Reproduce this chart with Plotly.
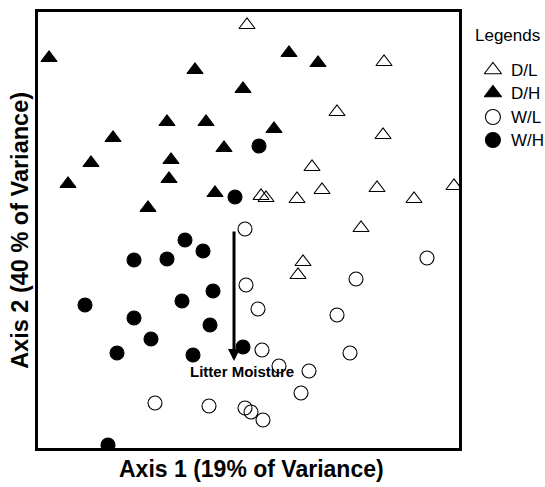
import plotly.graph_objects as go

# Ordination scores
dl_x = [-0.01, 1.36, 0.89, 1.35, 0.64, 0.74, 1.29, 0.49, 1.66, 2.06, 0.13, 0.18, 1.13, 0.55, 0.50]
dl_y = [2.05, 1.68, 1.18, 0.95, 0.63, 0.40, 0.42, 0.31, 0.31, 0.44, 0.34, 0.32, 0.02, -0.32, -0.45]

dh_x = [-1.99, -0.53, 0.41, 0.70, -0.05, -0.81, -0.42, 0.26, -1.35, -0.24, -1.57, -0.77, -1.80, -0.79, -0.33, -1.00]
dh_y = [1.72, 1.60, 1.77, 1.67, 1.41, 1.08, 1.08, 1.01, 0.92, 0.82, 0.67, 0.70, 0.46, 0.51, 0.37, 0.22]

wl_x = [-0.03, -0.02, 0.10, 0.14, -0.93, -0.39, -0.03, 0.03, 0.15, 1.79, 1.08, 0.89, 1.02, 0.31, 0.61, 0.53]
wl_y = [0.01, -0.55, -0.79, -1.20, -1.73, -1.76, -1.78, -1.82, -1.90, -0.28, -0.49, -0.85, -1.23, -1.36, -1.41, -1.63]

wh_x = [0.11, -0.13, -0.63, -0.45, -1.14, -0.81, -1.63, -0.35, -0.66, -1.14, -0.38, -0.97, -1.31, -0.55, -0.05, -1.40]
wh_y = [0.84, 0.33, -0.10, -0.21, -0.30, -0.29, -0.75, -0.61, -0.71, -0.88, -0.95, -1.09, -1.23, -1.25, -1.17, -2.15]

# Litter moisture vector (start, end)
vec_x = [-0.14, -0.14]
vec_y = [0.0, -1.31]
vec_label = "Litter Moisture"

groups = ["D/L", "D/H", "W/L", "W/H"]
symbols = ["triangle-up-open", "triangle-up", "circle-open", "circle"]
xs = [dl_x, dh_x, wl_x, wh_x]
ys = [dl_y, dh_y, wl_y, wh_y]

FONT = "Liberation Sans, Arial, sans-serif"

fig = go.Figure()
for name, sym, x, y in zip(groups, symbols, xs, ys):
    fig.add_trace(go.Scatter(
        x=x, y=y, mode="markers", name=name, showlegend=False,
        marker=dict(symbol=sym, size=14, color="black", line=dict(width=1.1, color="black"))))

# Hand-built legend in a side panel (second pair of axes, same scale)
leg_x_marker = 2.45
leg_x_text = 2.61
leg_y = [1.60, 1.37, 1.13, 0.90]
fig.add_trace(go.Scatter(
    x=[leg_x_marker] * 4, y=leg_y, mode="markers", showlegend=False, hoverinfo="skip",
    xaxis="x2", yaxis="y2",
    marker=dict(symbol=symbols, size=15, color="black", line=dict(width=1.1, color="black"))))
for name, yv in zip(groups, leg_y):
    fig.add_annotation(x=leg_x_text, y=yv, xref="x2", yref="y2", text=name, showarrow=False,
                       xanchor="left", yanchor="middle",
                       font=dict(family=FONT, size=17, color="black"))
fig.add_annotation(x=2.60, y=1.95, xref="x2", yref="y2", text="Legends", showarrow=False,
                   xanchor="center", yanchor="middle",
                   font=dict(family=FONT, size=17, color="black"))

# Vector arrow and its label
fig.add_annotation(x=vec_x[1], y=vec_y[1], ax=vec_x[0], ay=vec_y[0], xref="x", yref="y",
                   axref="x", ayref="y", showarrow=True, arrowhead=2, arrowsize=0.8,
                   arrowwidth=3, arrowcolor="black", text="")
fig.add_annotation(x=-0.06, y=-1.41, xref="x", yref="y", text="<b>" + vec_label + "</b>",
                   showarrow=False, yanchor="middle", xanchor="center",
                   font=dict(family=FONT, size=15, color="black"))

# Axis titles
main_w = 0.8304
fig.add_annotation(x=0.508 * main_w, y=0, xref="paper", yref="paper",
                   text="<b>Axis 1 (19% of Variance)</b>",
                   showarrow=False, yanchor="middle", yshift=-21,
                   font=dict(family=FONT, size=23, color="black"))
fig.add_annotation(x=0, y=0.498, xref="paper", yref="paper", text="<b>Axis 2 (40 % of Variance)</b>",
                   showarrow=False, textangle=-90, xanchor="center", yanchor="middle", xshift=-18,
                   font=dict(family=FONT, size=23.5, color="black"))

axis_common = dict(showgrid=False, zeroline=False, showticklabels=False, ticks="",
                   showline=True, mirror=True, linecolor="black", linewidth=3)
hidden = dict(showgrid=False, zeroline=False, showticklabels=False, ticks="", showline=False,
              fixedrange=True)
fig.update_layout(
    xaxis=dict(range=[-2.10, 2.11], domain=[0, main_w], **axis_common),
    yaxis=dict(range=[-2.18, 2.18], domain=[0, 1], **axis_common),
    xaxis2=dict(range=[2.16, 2.97], domain=[0.84, 1.0], anchor="y2", **hidden),
    yaxis2=dict(range=[-2.18, 2.18], domain=[0, 1], anchor="x2", **hidden),
)

fig.update_layout(
    width=545, height=487,
    margin=dict(l=38, r=0, t=12, b=39),
    plot_bgcolor="white", paper_bgcolor="white",
    font=dict(family=FONT, color="black"),
    showlegend=False,
)

fig.write_html("out.html", config={"displayModeBar": False},
               post_script="document.body.style.margin='0';document.body.style.overflow='hidden';")
